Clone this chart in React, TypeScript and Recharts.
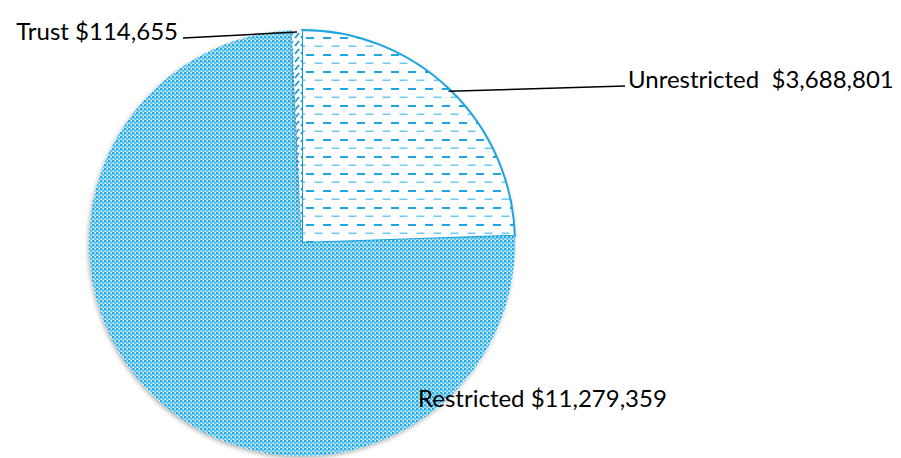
import { PieChart, Pie, Cell } from 'recharts'

const NAMES = ['Unrestricted', 'Restricted', 'Trust']
const VALUES = [3688801, 11279359, 114655]
const LABELS = ['Unrestricted  $3,688,801', 'Restricted $11,279,359', 'Trust $114,655']

const FILLS = ['url(#dashes)', 'url(#checker)', 'url(#hatch)']
const STROKES = ['#1ba5e0', 'none', 'none']

const data = NAMES.map((name, i) => ({ name, value: VALUES[i] }))

const RAD = Math.PI / 180
const FONT = 'Lato, "Noto Sans", sans-serif'

// hand-placed label anchors, relative to the pie centre (as in the source)
const LABEL_POS = [
  { dx: 326, dy: -155, anchor: 'start', line: true },
  { dx: 116, dy: 164, anchor: 'start', line: false },
  { dx: -124, dy: -203, anchor: 'end', line: true },
]

function renderLabel(props: any) {
  const { cx, cy, midAngle, outerRadius, index } = props
  const pos = LABEL_POS[index]
  const tx = cx + pos.dx
  const ty = cy + pos.dy
  const ax = cx + (outerRadius - 2) * Math.cos(-midAngle * RAD)
  const ay = cy + (outerRadius - 2) * Math.sin(-midAngle * RAD)
  const lx = pos.anchor === 'start' ? tx - 3 : tx + 5
  return (
    <g key={`lbl-${index}`}>
      {pos.line && (
        <line x1={ax} y1={ay} x2={lx} y2={ty - 2} stroke="#000" strokeWidth={1.5} />
      )}
      <text
        x={tx}
        y={ty}
        textAnchor={pos.anchor}
        fontFamily={FONT}
        fontSize={24}
        fill="#000"
        style={{ whiteSpace: 'pre' }}
      >
        {LABELS[index]}
      </text>
    </g>
  )
}

export default function App() {
  return (
    <div style={{ position: 'absolute', left: 0, top: 0, background: '#fff' }}>
      <PieChart width={901} height={458} margin={{ top: 0, right: 0, bottom: 0, left: 0 }}>
        <defs>
          <pattern id="checker" width={4} height={4} patternUnits="userSpaceOnUse">
            <rect width={4} height={4} fill="#8ad6f5" />
            <rect x={0} y={0} width={2} height={2} fill="#22a8e6" />
            <rect x={2} y={2} width={2} height={2} fill="#5cc3ef" />
            <rect x={3} y={0} width={1} height={1} fill="#ffffff" />
            <rect x={1} y={3} width={1} height={1} fill="#ffffff" />
          </pattern>
          <pattern id="dashes" width={17} height={17} patternUnits="userSpaceOnUse">
            <rect width={17} height={17} fill="#ffffff" />
            <rect x={0} y={3} width={8} height={2} fill="#1ba5e0" />
            <rect x={8.5} y={11.5} width={8} height={1.5} fill="#6ccbf1" />
          </pattern>
          <pattern id="hatch" width={6} height={8} patternUnits="userSpaceOnUse">
            <rect width={6} height={8} fill="#ffffff" />
            <line x1={1} y1={6} x2={5} y2={1} stroke="#1a9fdc" strokeWidth={2} />
          </pattern>
          <filter id="shadow" x="-10%" y="-10%" width="120%" height="120%">
            <feDropShadow dx={-1} dy={2} stdDeviation={2} floodColor="#000" floodOpacity={0.3} />
          </filter>
        </defs>
        <Pie
          data={data}
          dataKey="value"
          nameKey="name"
          cx={302}
          cy={243}
          outerRadius={213}
          startAngle={90}
          endAngle={-270}
          label={renderLabel}
          labelLine={false}
          isAnimationActive={false}
          style={{ filter: 'url(#shadow)' }}
        >
          {data.map((d, i) => (
            <Cell
              key={d.name}
              fill={FILLS[i]}
              stroke={STROKES[i]}
              strokeWidth={i === 0 ? 2 : 0}
            />
          ))}
        </Pie>
      </PieChart>
    </div>
  )
}
